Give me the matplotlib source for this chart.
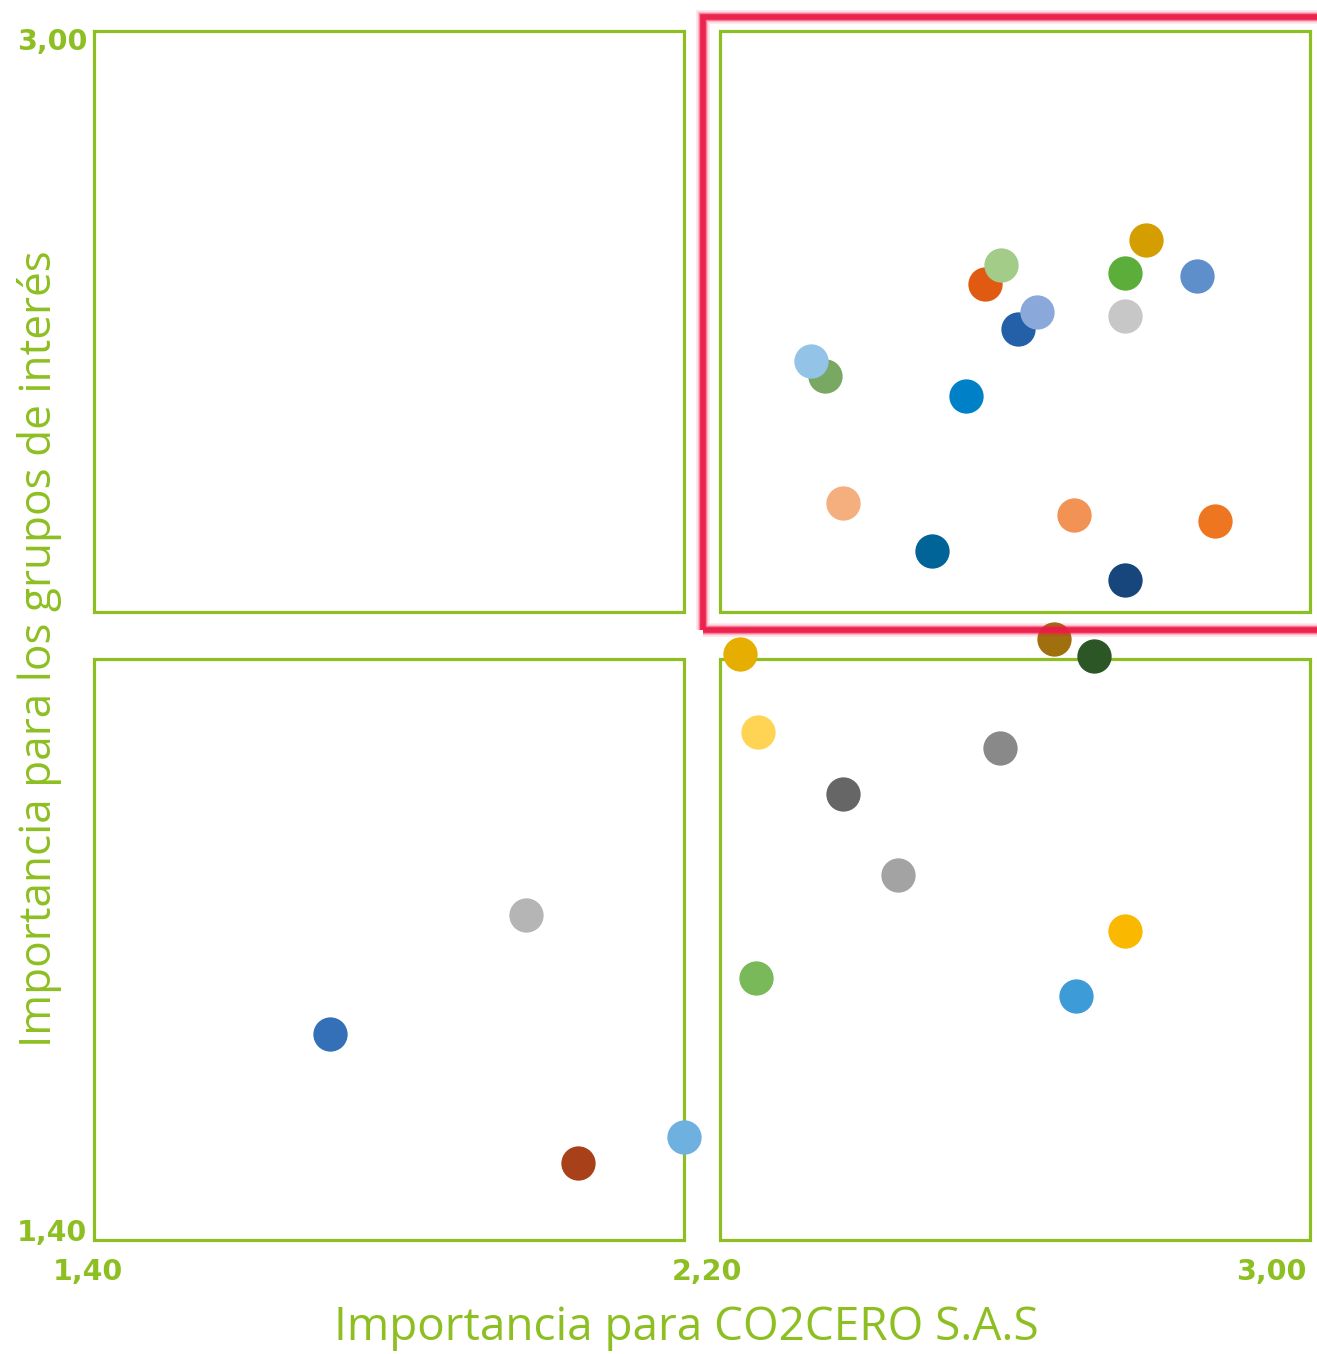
import matplotlib
matplotlib.use("Agg")
import matplotlib.pyplot as plt
from matplotlib.patches import Rectangle

# ---- data ----
x_vals = [2.784, 2.757, 2.851, 2.593, 2.572, 2.641, 2.616, 2.757, 2.343, 2.362,
          2.547, 2.386, 2.689, 2.875, 2.503, 2.757, 2.663, 2.716, 2.250, 2.274,
          2.592, 2.386, 2.458, 2.757, 2.271, 2.692, 1.968, 1.711, 2.037, 2.176]
y_vals = [2.723, 2.680, 2.676, 2.690, 2.665, 2.628, 2.606, 2.623, 2.563, 2.543,
          2.517, 2.375, 2.360, 2.352, 2.312, 2.273, 2.195, 2.173, 2.176, 2.072,
          2.051, 1.990, 1.883, 1.809, 1.747, 1.723, 1.830, 1.673, 1.502, 1.536]
colors = ["#D59E00", "#5BAE3A", "#5F8FCB", "#A2CC88", "#E05A12", "#8AA9DA",
          "#2360A8", "#C8C7C8", "#93C4E8", "#79A862", "#0080C6", "#F5AE7E",
          "#F29254", "#EE7621", "#006498", "#17467D", "#A0700F", "#2D5627",
          "#E5AE00", "#FFD454", "#898989", "#666666", "#A3A3A3", "#FBB800",
          "#7AB95A", "#3D9BD8", "#B5B5B5", "#3470B8", "#A8401A", "#6EB0E0"]
# order so overlaps match (lighter ones on top in pairs)
draw_order = [4, 3, 6, 5, 9, 8, 0, 1, 2, 7, 10, 11, 12, 13, 14, 15, 16, 17,
              18, 19, 20, 21, 22, 23, 24, 25, 26, 27, 28, 29]

x_ticks = [1.40, 2.20, 3.00]
y_ticks = [1.40, 3.00]
x_tick_labels = ["1,40", "2,20", "3,00"]
y_tick_labels = ["1,40", "3,00"]
x_title = "Importancia para CO2CERO S.A.S"
y_title = "Importancia para los grupos de interés"

GREEN = "#8DBF22"
RED = "#EC1A48"

W, H = 1317, 1354
fig = plt.figure(figsize=(W / 100, H / 100), dpi=100)
L, R, T, B = 94, 1310, 31, 1240
ax = fig.add_axes([L / W, 1 - B / H, (R - L) / W, (B - T) / H])
ax.set_xlim(1.40, 3.00)
ax.set_ylim(1.40, 3.00)
for s in ax.spines.values():
    s.set_visible(False)
ax.set_xticks([])
ax.set_yticks([])
ax.patch.set_alpha(0)

# quadrant boxes
gx, gy = 0.024, 0.031
boxes = [(1.40, 2.20 + gy, 2.20 - gx, 3.00), (2.20 + gx, 2.20 + gy, 3.00, 3.00),
         (1.40, 1.40, 2.20 - gx, 2.20 - gy), (2.20 + gx, 1.40, 3.00, 2.20 - gy)]
for x0, y0, x1, y1 in boxes:
    ax.add_patch(Rectangle((x0, y0), x1 - x0, y1 - y0, fill=False, ec=GREEN,
                           lw=2.3, clip_on=False, zorder=1))

# points
for i in draw_order:
    ax.scatter([x_vals[i]], [y_vals[i]], s=610, color=colors[i], lw=0,
               zorder=3, clip_on=False)

# highlight rectangle (red, with soft glow)
rx0, ry0, rx1, ry1 = 2.201, 2.207, 3.06, 3.019
for lw, a in [(10.0, 0.10), (7.5, 0.22), (5.5, 0.45), (4.0, 0.9)]:
    ax.add_patch(Rectangle((rx0, ry0), rx1 - rx0, ry1 - ry0, fill=False, ec=RED,
                           lw=lw, alpha=a, clip_on=False,
                           zorder=4, joinstyle="miter"))

# tick labels
tick_font = dict(color=GREEN, fontsize=20.5, fontweight="bold", family=["DejaVu Sans"])
xpos = [88, 707, 1271]
for px, lab in zip(xpos, x_tick_labels):
    fig.text(px / W, 1 - 1272 / H, lab, ha="center", va="center", **tick_font)
ypos = [1233, 42]
for py, lab in zip(ypos, y_tick_labels):
    fig.text(87 / W, 1 - py / H, lab, ha="right", va="center", **tick_font)

title_font = dict(color=GREEN, fontweight="normal", family=["Open Sans", "DejaVu Sans"])
fig.text(686 / W, 1 - 1328 / H, x_title, ha="center", va="center", fontsize=33, **title_font)
fig.text(40 / W, 1 - 649 / H, y_title, ha="center", va="center", rotation=90, fontsize=31.8, **title_font)

fig.savefig("out.png", dpi=100, facecolor="white")
